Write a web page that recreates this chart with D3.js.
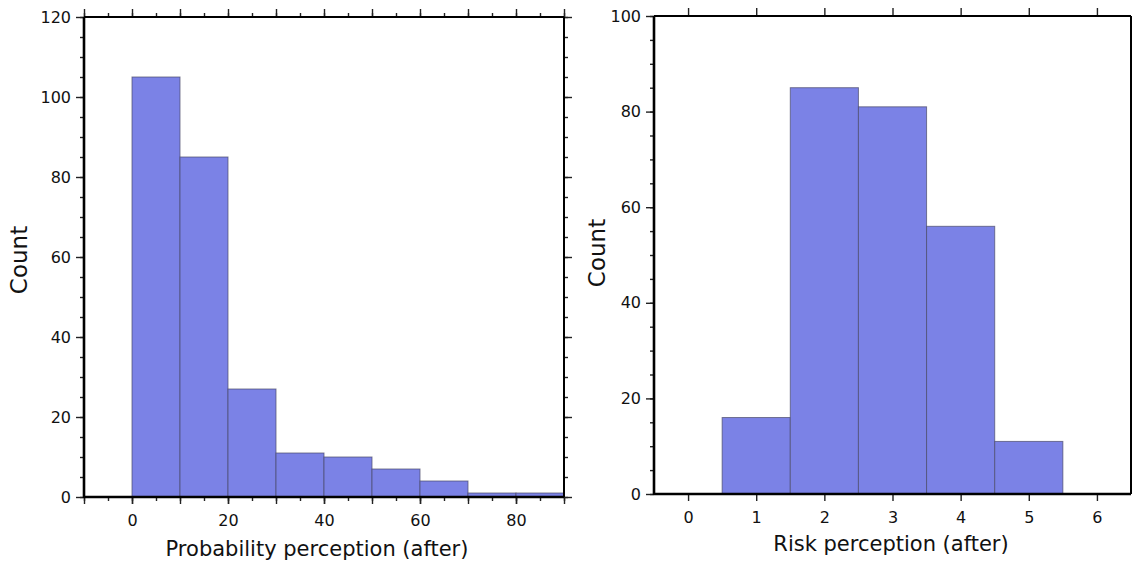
<!DOCTYPE html>
<html><head><meta charset="utf-8">
<script src="https://cdn.jsdelivr.net/npm/d3@7"></script>
<style>body{margin:0;background:#fff}svg{display:block}text{font-family:"DejaVu Sans",sans-serif;fill:#111}</style>
</head><body>
<svg id="c" width="1133" height="563"></svg>
<script>
// Left histogram: probability perception (after)
const probBinStarts = [0,10,20,30,40,50,60,70,80];
const probBinWidth = 10;
const probCounts = [105,85,27,11,10,7,4,1,1];
const probXTickLabels = [0,20,40,60,80];
const probYTickLabels = [0,20,40,60,80,100,120];
// Right histogram: risk perception (after)
const riskCategories = [1,2,3,4,5];
const riskCounts = [16,85,81,56,11];
const riskXTickLabels = [0,1,2,3,4,5,6];
const riskYTickLabels = [0,20,40,60,80,100];

const svg = d3.select("#c");
const barFill = "#7b82e6", barStroke = "#4a4a6a";

function frame(g, x0, x1, y0, y1){
  g.append("line").attr("x1",x0).attr("x2",x1).attr("y1",y0).attr("y2",y0).attr("stroke","#000").attr("stroke-width",2);
  g.append("line").attr("x1",x1).attr("x2",x1).attr("y1",y0).attr("y2",y1).attr("stroke","#000").attr("stroke-width",2);
  g.append("line").attr("x1",x0).attr("x2",x1).attr("y1",y1).attr("y2",y1).attr("stroke","#000").attr("stroke-width",2.6);
  g.append("line").attr("x1",x0).attr("x2",x0).attr("y1",y0).attr("y2",y1+1).attr("stroke","#000").attr("stroke-width",2.6);
}
function styleAxis(sel, showLabels){
  sel.select(".domain").remove();
  sel.selectAll(".tick line").attr("stroke","#222").attr("stroke-width",1.4);
  if(!showLabels) sel.selectAll(".tick text").remove();
  else sel.selectAll(".tick text").attr("font-size",16).attr("font-family","DejaVu Sans").attr("fill","#111");
}
const fmt = d3.format("d");

// ---------- Left panel ----------
{
  const L=84, R=564, T=17, B=497;
  const x = d3.scaleLinear().domain([-10,90]).range([L,R]);
  const y = d3.scaleLinear().domain([0,120]).range([B,T]);
  const g = svg.append("g");
  g.selectAll("rect.bar").data(probBinStarts).join("rect")
    .attr("x",d=>x(d)).attr("width",d=>x(d+probBinWidth)-x(d))
    .attr("y",(d,i)=>y(probCounts[i])).attr("height",(d,i)=>y(0)-y(probCounts[i]))
    .attr("fill",barFill).attr("stroke",barStroke).attr("stroke-width",1).attr("stroke-opacity",0.7);
  const minorX = d3.range(-10,91,5), majorX = d3.range(-10,91,10);
  const minorY = d3.range(0,121,5);
  styleAxis(g.append("g").attr("transform",`translate(0,${B})`).call(d3.axisBottom(x).tickValues(minorX).tickSize(4)),false);
  styleAxis(g.append("g").attr("transform",`translate(0,${B})`).call(d3.axisBottom(x).tickValues(majorX).tickSize(7)),false);
  styleAxis(g.append("g").attr("transform",`translate(0,${B})`).call(d3.axisBottom(x).tickValues(probXTickLabels).tickFormat(fmt).tickSize(7).tickPadding(11)),true);
  styleAxis(g.append("g").attr("transform",`translate(0,${T})`).call(d3.axisTop(x).tickValues(minorX).tickSize(4)),false);
  styleAxis(g.append("g").attr("transform",`translate(0,${T})`).call(d3.axisTop(x).tickValues(majorX).tickSize(8)),false);
  styleAxis(g.append("g").attr("transform",`translate(${L},0)`).call(d3.axisLeft(y).tickValues(minorY).tickSize(4)),false);
  styleAxis(g.append("g").attr("transform",`translate(${L},0)`).call(d3.axisLeft(y).tickValues(probYTickLabels).tickFormat(fmt).tickSize(8).tickPadding(5)),true);
  styleAxis(g.append("g").attr("transform",`translate(${R},0)`).call(d3.axisRight(y).tickValues(minorY).tickSize(4)),false);
  styleAxis(g.append("g").attr("transform",`translate(${R},0)`).call(d3.axisRight(y).tickValues(probYTickLabels).tickSize(8)),false);
  frame(g,L,R,T,B);
  g.append("text").attr("x",317).attr("y",556).attr("text-anchor","middle").attr("font-size",21).text("Probability perception (after)");
  g.append("text").attr("transform",`translate(27,260) rotate(-90)`).attr("text-anchor","middle").attr("font-size",23).text("Count");
}

// ---------- Right panel ----------
{
  const L=654, R=1131, T=16, B=494;
  const x = d3.scaleLinear().domain([-0.5,6.5]).range([L,R]);
  const y = d3.scaleLinear().domain([0,100]).range([B,T]);
  const g = svg.append("g");
  g.selectAll("rect.bar").data(riskCategories).join("rect")
    .attr("x",d=>x(d-0.5)).attr("width",d=>x(d+0.5)-x(d-0.5))
    .attr("y",(d,i)=>y(riskCounts[i])).attr("height",(d,i)=>y(0)-y(riskCounts[i]))
    .attr("fill",barFill).attr("stroke",barStroke).attr("stroke-width",1).attr("stroke-opacity",0.7);
  const minorY = d3.range(0,101,5);
  styleAxis(g.append("g").attr("transform",`translate(0,${B})`).call(d3.axisBottom(x).tickValues(riskXTickLabels).tickFormat(fmt).tickSize(7).tickPadding(11)),true);
  styleAxis(g.append("g").attr("transform",`translate(0,${T})`).call(d3.axisTop(x).tickValues(riskXTickLabels).tickSize(8)),false);
  styleAxis(g.append("g").attr("transform",`translate(${L},0)`).call(d3.axisLeft(y).tickValues(minorY).tickSize(4)),false);
  styleAxis(g.append("g").attr("transform",`translate(${L},0)`).call(d3.axisLeft(y).tickValues(riskYTickLabels).tickFormat(fmt).tickSize(8).tickPadding(5)),true);
  frame(g,L,R,T,B);
  g.append("text").attr("x",891).attr("y",551).attr("text-anchor","middle").attr("font-size",21).text("Risk perception (after)");
  g.append("text").attr("transform",`translate(605,253) rotate(-90)`).attr("text-anchor","middle").attr("font-size",23).text("Count");
}
</script>
</body></html>
